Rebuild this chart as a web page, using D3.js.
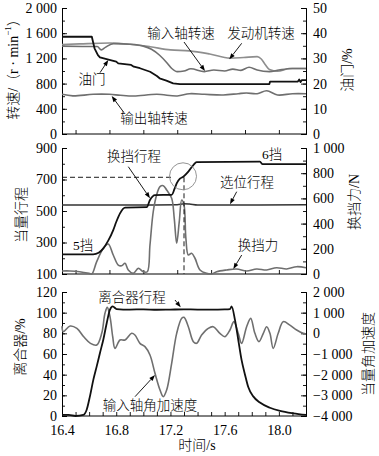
<!DOCTYPE html>
<html><head><meta charset="utf-8">
<script src="https://cdn.jsdelivr.net/npm/d3@7"></script>
<style>
html,body{margin:0;padding:0;background:#fff;}
text{font-family:"Liberation Serif","Noto Sans CJK SC",serif;}
.cjk{font-family:"Liberation Serif","Noto Sans CJK SC",serif;font-weight:300;}
</style></head>
<body><svg id="c" width="379" height="456"></svg>
<script>
// ---------- DATA ----------
// Panel 1 : speeds (rpm, left axis) and throttle (%, right axis)
const engineTime  = [16.40,16.53,16.75,16.90,17.05,17.20,17.34,17.49,17.64,17.74,17.84,17.87,17.90,17.93,17.99,18.08,18.20];
const engineSpeed = [1420,1430,1444,1425,1385,1335,1320,1270,1205,1215,1228,1190,1100,1025,995,1040,1040];
const inputTime   = [16.40,16.55,16.66,16.69,16.72,16.78,16.90,17.00,17.06,17.12,17.17,17.21,17.25,17.30,17.35,17.45,17.52,17.60,17.66,17.72,17.78,17.84,17.93,18.00,18.10,18.20];
const inputSpeed  = [1395,1390,1388,1335,1375,1435,1425,1395,1345,1250,1140,1040,990,1000,1035,990,1015,1000,1030,1010,1060,1015,990,1015,1040,1040];
const outputTime  = [16.40,16.48,16.63,16.75,16.83,16.93,17.10,17.25,17.34,17.45,17.59,17.70,17.76,17.84,17.91,17.99,18.10,18.20];
const outputSpeed = [630,605,630,630,615,603,630,603,640,630,619,640,650,640,687,619,640,640];
const throttleTime= [16.40,16.62,16.64,16.665,16.68,16.75,16.80,16.815,16.91,16.93,16.975,17.05,17.10,17.12,17.17,17.22,17.27,17.93,17.935,18.14,18.15,18.16,18.17,18.20];
const throttle    = [38.6,38.6,34,31.3,30.4,29.4,28.7,28.0,27.4,26.7,26.1,24.7,23.0,22.1,21.2,20.1,19.8,19.8,20.8,20.8,21.6,20.6,21.4,21.4];

// Panel 2 : equivalent strokes (left axis) and shift force (N, right axis)
const shiftTime   = [16.40,16.63,16.67,16.705,16.74,16.778,16.80,16.828,16.865,17.025,17.049,17.086,17.209,17.23,17.246,17.27,17.295,17.332,17.369,17.393,17.86,17.88,18.20];
const shiftStroke = [225,225,235,263,310,379,430,485,522,524,570,601,603,640,676,705,718,750,792,810,813,797,797];
const selectTime  = [16.40,17.00,17.25,17.30,17.34,17.40,17.70,18.20];
const selectStroke= [538,538,540,546,544,538,538,540];
const forceTime   = [16.40,16.46,16.53,16.60,16.62,16.656,16.705,16.741,16.778,16.815,16.84,16.865,16.889,16.926,16.963,17.00,17.029,17.049,17.073,17.098,17.123,17.147,17.172,17.209,17.228,17.246,17.265,17.283,17.30,17.314,17.332,17.356,17.381,17.418,17.467,17.504,17.541,17.615,17.688,17.762,17.836,17.91,17.983,18.057,18.131,18.20];
const shiftForce  = [24,24,18,5,0,98,204,238,151,71,65,85,32,5,45,18,18,230,494,627,693,701,667,601,442,244,415,587,548,283,151,164,125,32,5,0,18,32,40,24,40,32,50,40,58,50];
const refStroke = 714, refTime = 17.30;

// Panel 3 : clutch stroke (%, left axis) and input shaft angular acceleration (right axis)
const clutchTime  = [16.40,16.45,16.50,16.557,16.582,16.606,16.631,16.656,16.68,16.705,16.73,16.754,16.774,16.803,16.90,17.00,17.10,17.20,17.30,17.40,17.50,17.60,17.64,17.651,17.676,17.70,17.725,17.75,17.774,17.811,17.86,17.934,18.008,18.106,18.20];
const clutch      = [1,1,0,1,6,19,35,48,61,74,90,103,106,103.5,103,103.2,102.8,103,103.2,103,103,103.2,103.5,106,93,74,54,40,28,19,13,8,5,2.6,1];
const accelTime   = [16.40,16.41,16.46,16.51,16.56,16.61,16.656,16.693,16.717,16.734,16.754,16.774,16.791,16.828,16.865,16.914,16.938,16.975,17.012,17.049,17.086,17.123,17.147,17.172,17.209,17.246,17.283,17.30,17.332,17.369,17.393,17.43,17.479,17.516,17.565,17.602,17.639,17.668,17.70,17.725,17.762,17.792,17.823,17.853,17.885,17.91,17.934,17.958,17.995,18.032,18.081,18.131,18.179,18.20];
const accel       = [350,80,355,240,-165,-484,-565,0,968,1258,806,-161,-726,-323,-323,0,-80,-484,-645,-1050,-1935,-2742,-3065,-2742,-1452,0,726,774,322,-403,-484,-80,242,322,0,-161,161,565,0,-484,322,726,0,-403,0,322,0,-726,0,565,400,160,0,-30];

// Tick values
const timeLabels = [16.4,16.8,17.2,17.6,18.0];
const topTimeTicks = [16.5,16.75,17.0,17.25,17.5,17.75,18.0];
const p1LeftTicks = [0,400,800,1200,1600,2000];
const p1RightTicks = [0,10,20,30,40,50];
const p2LeftTicks = [100,300,500,700,900];
const p2RightTicks = [0,200,400,600,800,1000];
const p3LeftTicks = [0,20,40,60,80,100,120];
const p3RightTicks = [-4000,-3000,-2000,-1000,0,1000,2000];

// ---------- DRAW ----------
const svg = d3.select("#c");
const X0 = 62, X1 = 306;
const x = d3.scaleLinear([16.4,18.2],[X0,X1]);
const fmt = v => d3.format(",")(v).replace(/,/g," ");
const BLACK="#111", GRAY="#6f6f6f", LGRAY="#8e8e8e";

const panels = [
  {top:8,bot:134,L:[0,2000],R:[0,50],Lt:p1LeftTicks,Lm:200,Rt:p1RightTicks,Rm:5},
  {top:148,bot:274,L:[100,900],R:[0,1000],Lt:p2LeftTicks,Lm:100,Rt:p2RightTicks,Rm:100},
  {top:292,bot:416,L:[0,120],R:[-4000,2000],Lt:p3LeftTicks,Lm:10,Rt:p3RightTicks,Rm:500}
];
panels.forEach(p=>{
  p.yL = d3.scaleLinear(p.L,[p.bot,p.top]);
  p.yR = d3.scaleLinear(p.R,[p.bot,p.top]);
});

function styleAxis(g){
  g.select(".domain").attr("stroke","#000").attr("stroke-width",1);
  g.selectAll(".tick line").attr("stroke","#000").attr("stroke-width",0.9);
  g.selectAll("text").attr("font-size",14).attr("fill","#000");
}

panels.forEach((p,i)=>{
  // left minor + major
  const lmin = d3.range(p.L[0],p.L[1]+1e-9,p.Lm);
  svg.append("g").attr("transform",`translate(${X0},0)`)
    .call(d3.axisLeft(p.yL).tickValues(lmin).tickSize(-3).tickFormat("")).call(styleAxis);
  svg.append("g").attr("transform",`translate(${X0},0)`)
    .call(d3.axisLeft(p.yL).tickValues(p.Lt).tickSize(-5).tickPadding(5).tickFormat(fmt)).call(styleAxis);
  const rmin = d3.range(p.R[0],p.R[1]+1e-9,p.Rm);
  svg.append("g").attr("transform",`translate(${X1},0)`)
    .call(d3.axisRight(p.yR).tickValues(rmin).tickSize(-3).tickFormat("")).call(styleAxis);
  svg.append("g").attr("transform",`translate(${X1},0)`)
    .call(d3.axisRight(p.yR).tickValues(p.Rt).tickSize(-5).tickPadding(7).tickFormat(fmt)).call(styleAxis);
  // bottom
  if(i<2){
    svg.append("g").attr("transform",`translate(0,${p.bot})`)
      .call(d3.axisBottom(x).tickValues(topTimeTicks).tickSize(-4).tickFormat("")).call(styleAxis)
      .select(".domain").attr("d",`M${X0},0H${X1}`);
  } else {
    const mt = d3.range(16.4,18.2+1e-9,0.1);
    svg.append("g").attr("transform",`translate(0,${p.bot})`)
      .call(d3.axisBottom(x).tickValues(mt).tickSize(-4).tickFormat("")).call(styleAxis)
      .select(".domain").attr("d",`M${X0},0H${X1}`);
    svg.append("g").attr("transform",`translate(0,${p.bot})`)
      .call(d3.axisBottom(x).tickValues(timeLabels).tickSize(0).tickPadding(9).tickFormat(d3.format(".1f"))).call(styleAxis)
      .select(".domain").remove();
  }
});

function drawLine(ts,vs,y,color,w,curve){
  const data = ts.map((t,i)=>[t,vs[i]]);
  svg.append("path").datum(data)
    .attr("fill","none").attr("stroke",color).attr("stroke-width",w)
    .attr("stroke-linejoin","round")
    .attr("d",d3.line().x(d=>x(d[0])).y(d=>y(d[1])).curve(curve));
}
const smooth = d3.curveCatmullRom.alpha(0.5);
const mono = d3.curveMonotoneX;
const [P1,P2,P3] = panels;

// panel 1
drawLine(engineTime,engineSpeed,P1.yL,LGRAY,1.6,mono);
drawLine(inputTime,inputSpeed,P1.yL,GRAY,1.6,mono);
drawLine(outputTime,outputSpeed,P1.yL,GRAY,1.6,smooth);
drawLine(throttleTime,throttle,P1.yR,BLACK,1.8,d3.curveLinear);
// panel 2
drawLine(selectTime,selectStroke,P2.yL,"#333",1.5,mono);
drawLine(forceTime,shiftForce,P2.yR,GRAY,1.6,smooth);
drawLine(shiftTime,shiftStroke,P2.yL,BLACK,1.8,mono);
svg.append("line").attr("x1",x(16.4)).attr("x2",x(17.22)).attr("y1",P2.yL(refStroke)).attr("y2",P2.yL(refStroke))
  .attr("stroke","#000").attr("stroke-width",0.9).attr("stroke-dasharray","5,3");
svg.append("line").attr("x1",x(refTime)).attr("x2",x(refTime)).attr("y1",P2.yL(refStroke)).attr("y2",P2.bot)
  .attr("stroke","#000").attr("stroke-width",0.9).attr("stroke-dasharray","5,3");
svg.append("circle").attr("cx",x(refTime)-1).attr("cy",P2.yL(refStroke)-1).attr("r",13.5)
  .attr("fill","none").attr("stroke","#888").attr("stroke-width",0.9);
// panel 3
drawLine(accelTime,accel,P3.yR,GRAY,1.6,smooth);
drawLine(clutchTime,clutch,P3.yL,BLACK,1.8,mono);

// axis titles
function vtitle(cx,cy,parts){
  const t = svg.append("text").attr("class","cjk").attr("font-size",14).attr("text-anchor","middle")
    .attr("dominant-baseline","central").attr("transform",`translate(${cx},${cy}) rotate(-90)`);
  parts.forEach(pt=>{
    const s = t.append("tspan").text(pt.t);
    if(pt.sup){ s.attr("font-size",9).attr("baseline-shift","super"); }
  });
}
vtitle(13,66,[{t:"转速/（r · min"},{t:"−1",sup:true},{t:"）"}]);
vtitle(347,70,[{t:"油门/%"}]);
vtitle(21,215,[{t:"当量行程"}]);
vtitle(354,202,[{t:"换挡力/N"}]);
vtitle(20,347,[{t:"离合器/%"}]);
vtitle(368,354,[{t:"当量角加速度"}]);
svg.append("text").attr("class","cjk").attr("x",197).attr("y",445).attr("font-size",14)
  .attr("text-anchor","middle").attr("dominant-baseline","central").text("时间/s");

// annotations
const notes = [
  {t:"输入轴转速",x:181,y:33},{t:"发动机转速",x:261,y:33},{t:"油门",x:92,y:79},{t:"输出轴转速",x:154,y:118},
  {t:"换挡行程",x:134,y:156},{t:"6挡",x:272,y:154},{t:"选位行程",x:247,y:182},{t:"换挡力",x:258,y:245},{t:"5挡",x:83,y:245},
  {t:"离合器行程",x:132,y:297},{t:"输入轴角加速度",x:150,y:405}
];
notes.forEach(n=>svg.append("text").attr("class","cjk").attr("x",n.x).attr("y",n.y).attr("font-size",13.5)
  .attr("text-anchor","middle").attr("dominant-baseline","central").attr("fill","#000").text(n.t));

const arrows = [
  [184,42,205,71],[241.7,43.3,229.3,59.3],[100,72.7,108.3,60],[124,112.7,111.7,96],
  [128.3,166.7,150,198.3],[236.7,191.7,230,204.3],[241.7,255,233.3,269],
  [175,300,180.7,307.3],[135,396.7,155,375]
];
arrows.forEach(a=>{
  const [x1,y1,x2,y2]=a;
  const ang=Math.atan2(y2-y1,x2-x1), L=6, W=2.2;
  const bx=x2-L*Math.cos(ang), by=y2-L*Math.sin(ang);
  svg.append("line").attr("x1",x1).attr("y1",y1).attr("x2",bx).attr("y2",by).attr("stroke","#000").attr("stroke-width",0.9);
  const px=-Math.sin(ang)*W, py=Math.cos(ang)*W;
  svg.append("path").attr("d",`M${x2},${y2}L${bx+px},${by+py}L${bx-px},${by-py}Z`).attr("fill","#000");
});
</script></body></html>
